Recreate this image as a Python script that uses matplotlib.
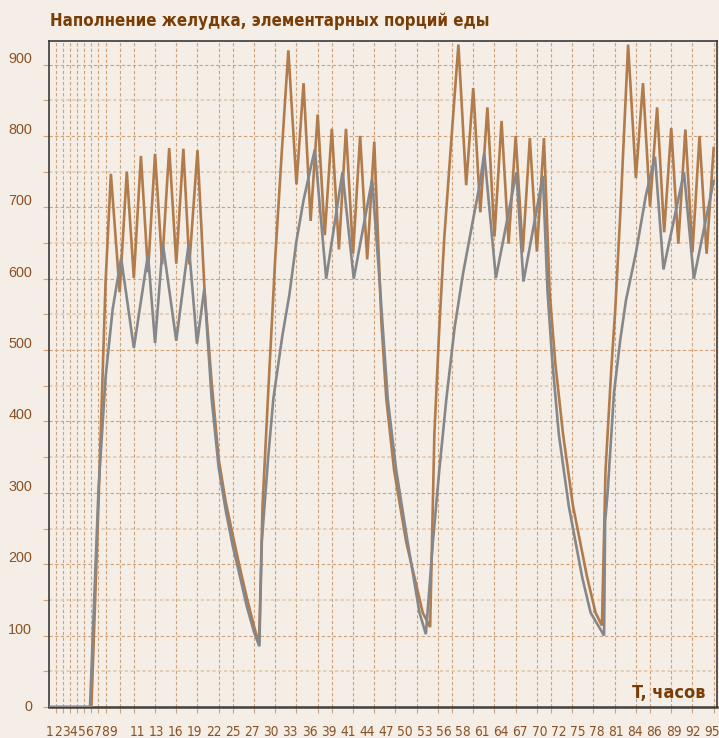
import matplotlib
matplotlib.use("Agg")
import matplotlib.pyplot as plt
from matplotlib import font_manager as fm
from matplotlib.ticker import MultipleLocator, FixedLocator, NullFormatter
import matplotlib.transforms as mtransforms

# ---------------- data ----------------
title_text = "Наполнение желудка, элементарных порций еды"
x_axis_text = "T, часов"

x_labels = [1, 2, 3, 4, 5, 6, 7, 8, 9, 11, 13, 16, 19, 22, 25, 27, 30, 33, 36,
            39, 41, 44, 47, 50, 53, 56, 58, 61, 64, 67, 70, 72, 75, 78, 81, 84,
            86, 89, 92, 95]
y_labels = [0, 100, 200, 300, 400, 500, 600, 700, 800, 900]

brown_t = [1, 7, 8, 9, 9.75, 11, 12, 13, 14, 15, 16, 17, 18, 19, 20, 20.85, 22,
           23, 24, 25, 26, 27, 28, 29, 30, 30.7,
           31.2, 32, 33, 34, 34.85, 36, 37, 38, 39, 40, 41, 42, 43, 44, 45, 46, 47,
           48, 48.7, 49.8, 51.5, 53.86, 54.9,
           55.5, 56.2, 56.9, 57.8, 58.9, 60, 61, 62, 63, 64, 65, 66, 67, 68, 69, 70, 71,
           71.8, 72.6, 73.7, 75.1, 77.1, 78.3, 79.2,
           79.7, 80.5, 81.1, 81.84, 82.9, 84, 85, 86, 87, 88, 89, 90, 91, 92, 93, 94, 95]
brown_v = [0, 0, 285, 595, 747, 581, 750, 601, 772, 609, 775, 620, 783, 621, 782, 620, 780,
           583, 455, 347, 287, 240, 195, 152, 113, 88,
           282, 440, 630, 790, 920, 732, 874, 681, 830, 661, 810, 641, 810, 635, 800, 627, 792,
           540, 432, 332, 232, 132, 112,
           382, 532, 657, 781, 928, 731, 867, 693, 840, 659, 821, 649, 800, 637, 797, 638, 797,
           582, 482, 382, 282, 182, 132, 114,
           330, 470, 560, 700, 928, 741, 874, 701, 840, 665, 811, 649, 809, 637, 800, 635, 783]

gray_t = [1, 6.8, 8, 9, 10, 11.2, 13, 15, 16, 17.1, 19, 20.75, 21.93, 22.97,
          24, 25, 26, 27, 28, 29, 30, 30.75,
          31.1, 32, 32.73, 34, 35, 36, 37, 38, 38.6, 40.2, 42.5, 44.1, 46.7,
          47.8, 48.2, 48.9, 50.1, 51.7, 53.4, 54.3,
          55.3, 56.2, 57.2, 58.37, 59.55, 60.96, 61.9, 62.55, 64.2, 67.1, 68.1, 70.85,
          71.5, 72.2, 73.1, 74.5, 76.4, 77.6, 79.5,
          79.65, 80.0, 80.9, 81.8, 82.6, 84, 85.4, 86.7, 87.9, 90.8, 92.2, 95]
gray_v = [0, 0, 305, 462, 557, 629, 503, 634, 510, 649, 513, 649, 509, 586,
          432, 335, 275, 225, 183, 140, 105, 85,
          232, 350, 432, 520, 578, 653, 710, 755, 781, 600, 749, 600, 739,
          590, 532, 432, 332, 232, 132, 102,
          232, 332, 432, 532, 607, 682, 731, 776, 601, 749, 596, 744,
          582, 482, 382, 282, 182, 132, 100,
          260, 300, 440, 515, 570, 636, 716, 771, 613, 749, 600, 737]

# ---------------- style ----------------
BG = "#F4EEE6"
BROWN = "#B27B4B"
GRAY = "#85878A"
GRID_MAJ = "#CFA37B"
GRID_MIN = "#E2C8AC"
TXT_DARK = "#7A3D06"
TXT_TICK = "#8A5226"

fonts = fm.fontManager.ttflist
names = {f.name for f in fonts}
if "Liberation Sans Narrow" in names:
    NARROW = dict(family="Liberation Sans Narrow")
elif any(f.name == "DejaVu Sans" and "condensed" in str(f.stretch) for f in fonts):
    NARROW = dict(family="DejaVu Sans", fontstretch="condensed")
elif "Roboto" in names:
    NARROW = dict(family="Roboto")
else:
    NARROW = dict(family="DejaVu Sans")
REG = dict(family="Liberation Sans" if "Liberation Sans" in names else "DejaVu Sans")

W, H, DPI = 719, 738, 100
fig = plt.figure(figsize=(W / DPI, H / DPI), dpi=DPI, facecolor=BG)
renderer = fig.canvas.get_renderer()


def fit_size(text, target_px, base=12, **kw):
    t = fig.text(0, 0, text, fontsize=base, **kw)
    w = t.get_window_extent(renderer).width
    t.remove()
    return base * target_px / w


L, R, T, B = 49, 716.5, 41, 707  # plot frame in pixels
ax = fig.add_axes([L / W, 1 - B / H, (R - L) / W, (B - T) / H])
ax.set_facecolor(BG)

ax.set_xlim(1.0, 95.4)
ax.set_ylim(0, 933)

# grid
ax.yaxis.set_major_locator(FixedLocator(y_labels))
ax.yaxis.set_minor_locator(MultipleLocator(50))
ax.set_xticks([v for v in x_labels if v > 1])
ax.xaxis.set_major_formatter(NullFormatter())
ax.grid(axis="y", which="major", color=GRID_MAJ, linestyle=(0, (3, 2)), linewidth=0.8)
ax.grid(axis="y", which="minor", color=GRID_MIN, linestyle=(0, (2, 1.5)), linewidth=1.2)
ax.grid(axis="x", which="major", color=GRID_MAJ, linestyle=(0, (3, 2)), linewidth=0.8)
ax.set_axisbelow(True)

ytick_size = fit_size("900", 24, **REG)
ax.tick_params(axis="x", which="major", direction="out", length=4, width=0.8,
               color=GRID_MAJ, labelbottom=False)
ax.tick_params(axis="y", which="both", direction="out", length=4.3, width=0.8,
               color=GRID_MAJ)
ax.tick_params(axis="y", which="major", labelsize=ytick_size, labelcolor=TXT_TICK, pad=8)
for lab in ax.get_yticklabels():
    lab.set_fontfamily(REG["family"])

for s in ax.spines.values():
    s.set_color("#3A3A3A")
    s.set_linewidth(1.2)
ax.spines["bottom"].set_linewidth(1.8)
ax.spines["bottom"].set_color("#404040")

# lines
ax.plot(brown_t, brown_v, color=BROWN, linewidth=1.9, solid_joinstyle="miter", zorder=3)
ax.plot(gray_t, gray_v, color=GRAY, linewidth=1.9, solid_joinstyle="miter", zorder=4)

# y labels sit just above their gridlines
fig.canvas.draw()
for lab, v in zip(ax.get_yticklabels(), ax.get_yticks()):
    lab.set_verticalalignment("baseline" if v > 0 else "center")
    if v > 0:
        lab.set_transform(lab.get_transform() +
                          mtransforms.ScaledTranslation(0, 2 / DPI, fig.dpi_scale_trans))

# x labels packed along the bottom (single digits tight, double digits wider)
xl_size = min(fit_size("95", 15.5, **NARROW), fit_size("8", 7.8, **NARROW))
singles = [v for v in x_labels if v < 10]
doubles = [v for v in x_labels if v >= 10]
for i, v in enumerate(singles):
    px = 50 + 7.9 * i
    fig.text(px / W, 2.5 / H, str(v), ha="center", va="baseline",
             fontsize=xl_size, color=TXT_TICK, **NARROW)
for j, v in enumerate(doubles):
    px = 137 + 19.16 * j
    fig.text(px / W, 2.5 / H, str(v), ha="center", va="baseline",
             fontsize=xl_size, color=TXT_TICK, **NARROW)

# title and axis caption
title_size = fit_size(title_text, 440, fontweight="bold", **NARROW)
fig.text(50 / W, 1 - 26 / H, title_text, ha="left", va="baseline",
         fontsize=title_size, fontweight="bold", color=TXT_DARK, **NARROW)
cap_size = fit_size(x_axis_text, 73, fontweight="bold", **NARROW)
fig.text(705 / W, 1 - 698 / H, x_axis_text, ha="right", va="baseline",
         fontsize=cap_size, fontweight="bold", color=TXT_DARK, **NARROW)

fig.savefig("out.png", dpi=DPI, facecolor=BG)
